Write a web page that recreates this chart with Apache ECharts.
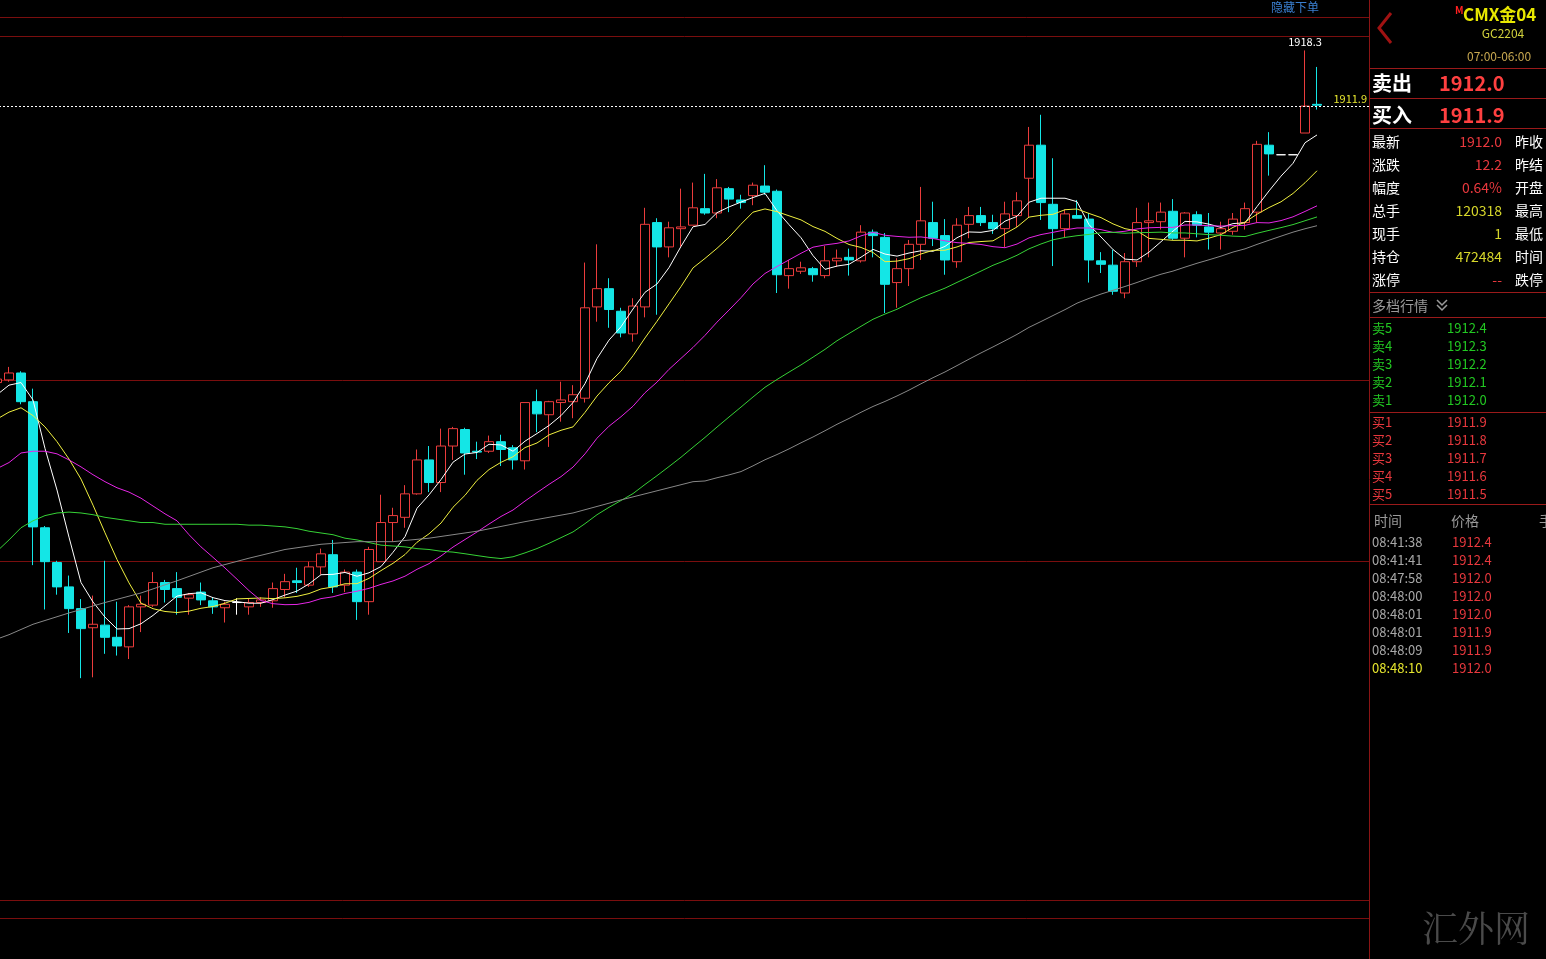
<!DOCTYPE html>
<html>
<head>
<meta charset="utf-8">
<title>CMX金04 GC2204</title>
<script src="https://cdn.jsdelivr.net/npm/echarts@6/dist/echarts.min.js"></script>
<style>
  html, body { margin: 0; padding: 0; background: #000; overflow: hidden; }
  /* 画布左移 9px，让最左边那根只露出一半的K线落在窗口外 */
  #chart { width: 1555px; height: 959px; margin-left: -9px; }
</style>
</head>
<body>
<div id="chart"></div>
<script>
// K线 [开, 收, 低, 高]，从左到右
const candles = [
  [1880.1, 1880.5, 1879.8, 1880.9], [1880.4, 1881.2, 1880.2, 1881.9], [1881.2, 1877.9, 1877.6, 1881.4],
  [1877.9, 1863.5, 1859.1, 1879.4], [1863.4, 1859.5, 1854.0, 1863.6], [1859.4, 1856.6, 1855.7, 1859.6],
  [1856.6, 1854.1, 1851.3, 1857.9], [1854.1, 1851.8, 1846.1, 1855.2], [1851.9, 1852.3, 1846.2, 1855.6],
  [1852.2, 1850.8, 1848.9, 1859.6], [1850.8, 1849.8, 1848.7, 1854.9], [1849.7, 1854.3, 1848.3, 1854.5],
  [1854.3, 1854.6, 1851.4, 1855.6], [1854.5, 1857.1, 1854.3, 1858.3], [1857.1, 1856.3, 1854.8, 1857.4],
  [1856.4, 1855.4, 1853.4, 1858.3], [1855.3, 1855.7, 1853.4, 1855.9], [1856.0, 1855.1, 1854.5, 1857.1],
  [1855.0, 1854.3, 1853.5, 1855.4], [1854.2, 1854.6, 1852.5, 1854.9], [1854.8, 1854.8, 1853.4, 1855.3],
  [1854.3, 1854.8, 1853.4, 1855.3], [1854.8, 1855.1, 1854.3, 1855.4], [1855.0, 1856.4, 1854.2, 1857.1],
  [1856.3, 1857.2, 1855.4, 1858.1], [1857.3, 1857.1, 1855.9, 1858.8], [1856.8, 1858.9, 1856.6, 1859.5],
  [1858.9, 1860.4, 1858.0, 1861.0], [1860.3, 1856.6, 1855.9, 1862.0], [1856.8, 1858.3, 1856.0, 1858.6],
  [1858.3, 1854.9, 1852.8, 1858.6], [1854.9, 1860.9, 1853.4, 1861.2], [1859.5, 1864.0, 1859.5, 1867.2],
  [1864.0, 1864.8, 1861.8, 1865.7], [1864.6, 1867.3, 1863.4, 1868.3], [1867.3, 1871.2, 1867.2, 1872.4],
  [1871.2, 1868.6, 1867.5, 1872.8], [1868.6, 1872.8, 1867.5, 1874.8], [1872.8, 1874.8, 1871.2, 1875.0],
  [1874.7, 1872.0, 1869.5, 1874.9], [1872.2, 1872.1, 1871.3, 1873.3], [1872.2, 1873.3, 1872.0, 1874.0],
  [1873.3, 1872.4, 1870.5, 1874.1], [1872.6, 1871.2, 1870.1, 1872.9], [1871.1, 1877.8, 1870.1, 1877.8],
  [1877.9, 1876.5, 1874.4, 1879.3], [1876.4, 1877.9, 1872.7, 1878.0], [1877.8, 1878.1, 1875.6, 1880.2],
  [1877.9, 1878.7, 1876.0, 1879.8], [1878.3, 1888.7, 1877.8, 1893.9], [1888.8, 1890.9, 1887.1, 1896.0],
  [1890.9, 1888.5, 1886.4, 1892.1], [1888.3, 1885.8, 1885.3, 1888.7], [1885.7, 1888.9, 1884.8, 1889.8],
  [1888.8, 1898.3, 1887.6, 1900.2], [1898.5, 1895.7, 1887.9, 1899.0], [1895.7, 1897.9, 1894.5, 1898.6],
  [1897.8, 1898.0, 1895.7, 1902.4], [1898.2, 1900.2, 1898.2, 1903.1], [1900.1, 1899.6, 1899.4, 1904.1],
  [1899.6, 1902.5, 1899.0, 1903.5], [1902.4, 1901.2, 1899.7, 1902.6], [1901.1, 1900.8, 1900.1, 1901.7],
  [1901.6, 1902.8, 1900.5, 1903.1], [1902.7, 1902.0, 1901.7, 1905.1], [1902.1, 1892.5, 1890.4, 1902.3],
  [1892.4, 1893.2, 1890.9, 1894.2], [1892.9, 1893.3, 1892.6, 1894.0], [1893.2, 1892.5, 1891.7, 1893.4],
  [1892.4, 1894.1, 1892.1, 1895.8], [1894.1, 1894.4, 1893.4, 1895.4], [1894.5, 1894.2, 1892.4, 1895.5],
  [1894.1, 1897.4, 1893.9, 1898.2], [1897.4, 1897.0, 1894.5, 1897.7], [1896.8, 1891.4, 1888.1, 1897.3],
  [1891.6, 1893.2, 1888.7, 1894.4], [1893.2, 1896.0, 1891.2, 1896.5], [1896.0, 1898.7, 1894.2, 1902.6],
  [1898.5, 1896.7, 1895.8, 1900.9], [1897.0, 1894.2, 1892.5, 1898.9], [1894.0, 1898.2, 1893.3, 1899.0],
  [1898.3, 1899.3, 1896.7, 1900.3], [1899.3, 1898.5, 1898.1, 1900.3], [1898.5, 1897.8, 1897.2, 1899.4],
  [1897.8, 1899.5, 1895.7, 1900.9], [1899.3, 1901.0, 1898.0, 1902.0], [1903.6, 1907.4, 1899.1, 1909.5],
  [1907.4, 1900.8, 1898.8, 1910.9], [1900.6, 1897.8, 1893.5, 1905.9], [1897.8, 1899.5, 1896.8, 1900.0],
  [1899.3, 1899.0, 1899.0, 1901.1], [1898.9, 1894.2, 1891.6, 1899.6], [1894.1, 1893.7, 1892.7, 1895.1],
  [1893.6, 1890.6, 1890.2, 1895.4], [1890.4, 1894.0, 1889.8, 1895.0], [1894.0, 1898.5, 1893.4, 1900.2],
  [1898.5, 1898.7, 1894.5, 1900.8], [1898.6, 1899.7, 1897.7, 1900.8], [1899.8, 1896.7, 1896.5, 1901.2],
  [1896.7, 1899.6, 1894.5, 1899.7], [1899.4, 1898.2, 1896.8, 1899.8], [1898.0, 1897.4, 1895.4, 1899.6],
  [1897.3, 1897.8, 1895.4, 1898.6], [1897.5, 1898.9, 1897.1, 1899.6], [1898.5, 1900.1, 1897.7, 1900.8],
  [1899.7, 1907.5, 1898.5, 1907.9], [1907.4, 1906.4, 1903.9, 1908.9], [1906.3, 1906.3, 1906.3, 1906.3],
  [1906.3, 1906.3, 1906.3, 1906.3], [1908.8, 1911.9, 1908.8, 1918.3], [1912.1, 1912.0, 1911.5, 1916.4]
]

// 窗口左侧之前的均线值（图上读出），之后由收盘价计算
const ma5Lead = [1878.7, 1879.8, 1880.1, 1878.1]
const ma10Lead = [1875.9, 1876.7, 1877.2, 1876.3, 1875.0, 1873.3, 1871.3, 1869.0, 1866.0]
const ma20Lead = [1870.2, 1870.9, 1872.0, 1872.2, 1872.2, 1871.9, 1871.2, 1870.4, 1869.5, 1868.7,
  1868.0, 1867.5, 1866.8, 1865.9, 1865.0, 1864.2, 1862.6, 1861.2, 1860.0]
const ma40Lead = [1860.7, 1862.0, 1863.4, 1864.2, 1864.8, 1865.1, 1865.2, 1865.1, 1864.9, 1864.6,
  1864.4, 1864.2, 1864.0, 1864.0, 1863.8, 1863.8, 1863.8, 1863.8, 1863.8, 1863.8,
  1863.8, 1863.7, 1863.7, 1863.6, 1863.5, 1863.3, 1863.0, 1862.8, 1862.6, 1862.2,
  1862.0, 1861.7, 1861.4, 1861.3, 1861.2, 1861.0, 1860.9, 1860.7, 1860.6]
const ma60Lead = [1850.6, 1851.1, null, 1852.3, null, null, 1853.6, null, null, 1854.8,
  null, null, 1855.9, null, null, 1857.3, null, null, 1858.8, null,
  null, 1859.9, null, null, 1860.9, null, null, 1861.5, null, null,
  1861.8, null, null, 1861.8, null, null, 1862.2, null, null, null,
  1863.0, null, null, null, 1864.1, null, null, null, 1865.1, null,
  null, null, 1866.6, null, null, null, 1868.0, null, 1868.7]

const lastPrice = 1911.9
const padBars = 4

// 右侧盘口
const quoteLabels = ['最新', '涨跌', '幅度', '总手', '现手', '持仓', '涨停']
const quoteValues = ['1912.0', '12.2', '0.64%', '120318', '1', '472484', '--']
const quoteColors = ['#e8383d', '#e8383d', '#e8383d', '#d6d62a', '#d6d62a', '#d6d62a', '#e8383d']
const quoteRight = ['昨收', '昨结', '开盘', '最高', '最低', '时间', '跌停']
const askLabels = ['卖5', '卖4', '卖3', '卖2', '卖1']
const askPrices = ['1912.4', '1912.3', '1912.2', '1912.1', '1912.0']
const bidLabels = ['买1', '买2', '买3', '买4', '买5']
const bidPrices = ['1911.9', '1911.8', '1911.7', '1911.6', '1911.5']
const tickTimes = ['08:41:38', '08:41:41', '08:47:58', '08:48:00', '08:48:01', '08:48:01', '08:48:09', '08:48:10']
const tickPrices = ['1912.4', '1912.4', '1912.0', '1912.0', '1912.0', '1911.9', '1911.9', '1912.0']

const FONT = '"Noto Sans CJK SC", "Noto Sans", sans-serif'
const RED = '#eb3c3c'
const CYAN = '#14e6e6'
const FRAME = '#7a0e0e'
const OX = 9 // 画布左移量，graphic 坐标按窗口坐标写再加回来

function calcMA(n, lead) {
  return candles.map((d, i) => {
    if (i < n - 1) return lead[i]
    let s = 0
    for (let j = i - n + 1; j <= i; j++) s += candles[j][1]
    return +(s / n).toFixed(2)
  })
}

function txt(x, y, text, color, size, extra) {
  return {
    type: 'text', x: x + OX, y, silent: true,
    style: Object.assign({
      text, fill: color, fontSize: size, fontFamily: FONT,
      align: 'left', verticalAlign: 'middle'
    }, extra || {})
  }
}

function hline(x1, x2, y, color) {
  return { type: 'line', silent: true, shape: { x1: x1 + OX, y1: y + 0.5, x2: x2 + OX, y2: y + 0.5 }, style: { stroke: color, lineWidth: 1 } }
}

function chevron(pts, color, width) {
  return { type: 'polyline', silent: true, shape: { points: pts.map(p => [p[0] + OX, p[1]]) }, style: { stroke: color, lineWidth: width, fill: null } }
}

const chart = echarts.init(document.getElementById('chart'))

const graphics = []
// 主图框线
;[17, 36, 380, 561, 900, 918].forEach(y => graphics.push(hline(0, 1369, y, FRAME)))
graphics.push({ type: 'line', silent: true, shape: { x1: 1369.5 + OX, y1: 0, x2: 1369.5 + OX, y2: 959 }, style: { stroke: '#8a1414', lineWidth: 1 } })
;[68, 98, 128, 292, 317, 412, 504].forEach(y => graphics.push(hline(1370, 1546, y, '#9a1a1a')))
graphics.push(txt(1271, 7, '隐藏下单', '#3a7fd0', 12))

// 盘口头部
graphics.push(chevron([[1391, 13], [1379, 28], [1391, 43]], '#a01212', 3))
graphics.push(txt(1455, 10, 'M', '#ff2020', 10, { fontWeight: 'bold' }))
graphics.push(txt(1463, 15, 'CMX金04', '#e8e800', 17, { fontWeight: 'bold' }))
graphics.push(txt(1503, 33, 'GC2204', '#d2d23c', 12, { align: 'center' }))
graphics.push(txt(1467, 56, '07:00-06:00', '#c8a850', 12))
graphics.push(txt(1372, 83, '卖出', '#ffffff', 20, { fontWeight: 'bold' }))
graphics.push(txt(1439, 83, '1912.0', '#ff4040', 20, { fontWeight: 'bold' }))
graphics.push(txt(1372, 115, '买入', '#ffffff', 20, { fontWeight: 'bold' }))
graphics.push(txt(1439, 115, '1911.9', '#ff4040', 20, { fontWeight: 'bold' }))

quoteLabels.forEach((t, i) => {
  const y = 142 + 23 * i
  graphics.push(txt(1372, y, t, '#ffffff', 14))
  graphics.push(txt(1502, y, quoteValues[i], quoteColors[i], 14, { align: 'right' }))
  graphics.push(txt(1515, y, quoteRight[i], '#ffffff', 14))
})

graphics.push(txt(1372, 306, '多档行情', '#9a9a9a', 14))
graphics.push(chevron([[1437, 300], [1442, 305], [1447, 300]], '#9a9a9a', 1.5))
graphics.push(chevron([[1437, 305], [1442, 310], [1447, 305]], '#9a9a9a', 1.5))

askLabels.forEach((t, i) => {
  const y = 328 + 18 * i
  graphics.push(txt(1372, y, t, '#22c822', 13))
  graphics.push(txt(1447, y, askPrices[i], '#22c822', 13))
})
bidLabels.forEach((t, i) => {
  const y = 422 + 18 * i
  graphics.push(txt(1372, y, t, '#e8383d', 13))
  graphics.push(txt(1447, y, bidPrices[i], '#e8383d', 13))
})

graphics.push(txt(1374, 521, '时间', '#9a9a9a', 14))
graphics.push(txt(1451, 521, '价格', '#9a9a9a', 14))
graphics.push(txt(1539, 521, '手', '#9a9a9a', 14))
tickTimes.forEach((t, i) => {
  const y = 542 + 18 * i
  const last = i === tickTimes.length - 1
  graphics.push(txt(1372, y, t, last ? '#e6e62e' : '#a8a8a8', 13))
  graphics.push(txt(1452, y, tickPrices[i], '#e8383d', 13))
})

graphics.push(txt(1476, 928, '汇外网', '#4a4a4a', 36, { align: 'center', fontFamily: '"Noto Serif CJK SC", "DejaVu Serif", serif' }))

const maSeries = [
  { name: 'MA5', n: 5, lead: ma5Lead, color: '#ffffff' },
  { name: 'MA10', n: 10, lead: ma10Lead, color: '#f0f040' },
  { name: 'MA20', n: 20, lead: ma20Lead, color: '#e626e6' },
  { name: 'MA40', n: 40, lead: ma40Lead, color: '#36d236' },
  { name: 'MA60', n: 60, lead: ma60Lead, color: '#888888' }
].map(m => ({
  name: m.name,
  type: 'line',
  data: calcMA(m.n, m.lead),
  symbol: 'none',
  smooth: false,
  connectNulls: true,
  lineStyle: { color: m.color, width: 1 },
  itemStyle: { color: m.color },
  z: 3
}))

const option = {
  backgroundColor: '#000',
  animation: false,
  // 画布宽 1555，K线区 0..1380（窗口坐标 -9..1371），每根 12px
  grid: { left: 0, right: 175, top: 0, bottom: 0 },
  xAxis: {
    type: 'category',
    data: Array.from({ length: candles.length + padBars }, (_, i) => String(i)),
    boundaryGap: true,
    show: false
  },
  yAxis: {
    type: 'value',
    min: 1813.8,
    max: 1924.1,
    show: false
  },
  graphic: graphics,
  series: [
    {
      name: 'K',
      type: 'candlestick',
      data: candles,
      barWidth: 10,
      itemStyle: {
        color: '#000',
        color0: CYAN,
        borderColor: RED,
        borderColor0: CYAN,
        borderColorDoji: '#ffffff',
        borderWidth: 1
      },
      markLine: {
        silent: true,
        symbol: 'none',
        data: [{ yAxis: lastPrice }],
        lineStyle: { color: '#ffffff', type: [2, 2], width: 1 },
        label: {
          show: true,
          position: 'insideEndTop',
          distance: [4, 2],
          color: '#e6e62e',
          fontSize: 11,
          fontFamily: FONT,
          formatter: p => p.value.toFixed(1)
        }
      },
      markPoint: {
        silent: true,
        symbol: 'circle',
        symbolSize: 1,
        itemStyle: { color: 'rgba(0,0,0,0)' },
        data: [{ type: 'max', valueDim: 'highest' }],
        label: {
          show: true,
          position: 'top',
          distance: 3,
          color: '#ffffff',
          fontSize: 11,
          fontFamily: FONT,
          formatter: p => p.value.toFixed(1)
        }
      },
      z: 2
    },
    ...maSeries
  ]
}

chart.setOption(option)
window.addEventListener('resize', () => chart.resize())
</script>
</body>
</html>
